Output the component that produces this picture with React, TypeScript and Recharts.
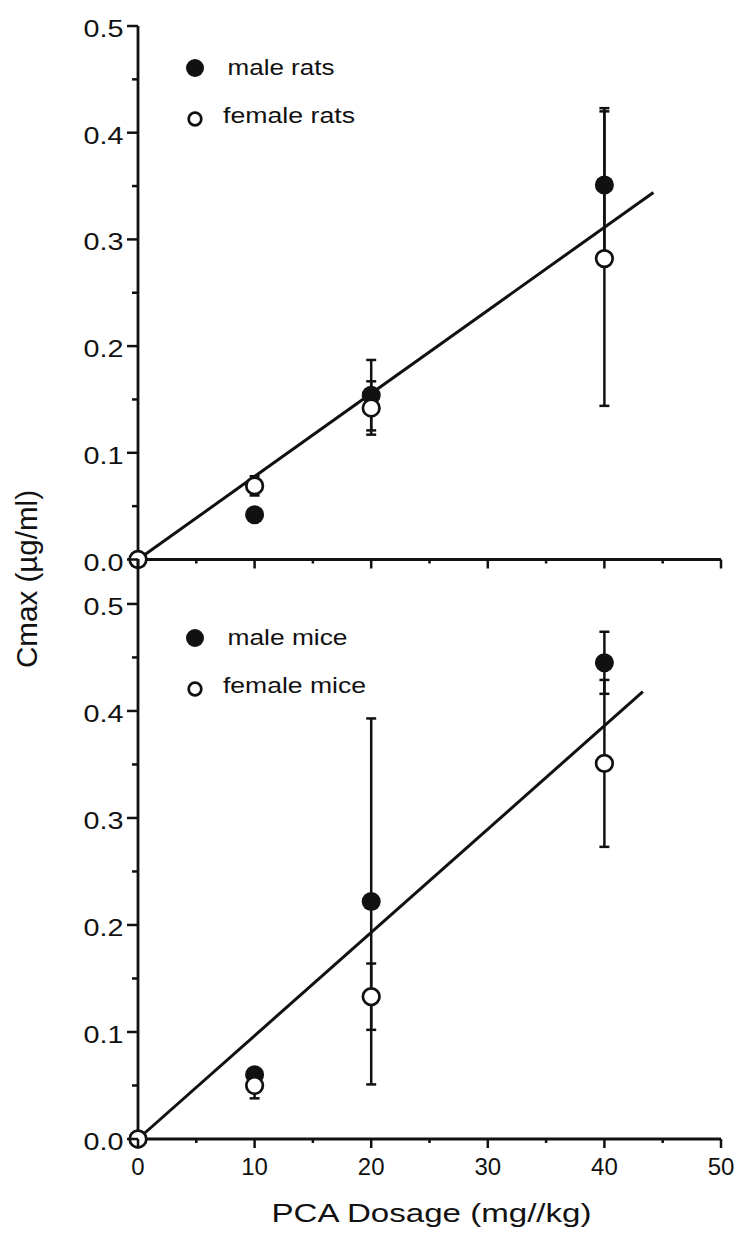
import { ScatterChart, Scatter, XAxis, YAxis, ErrorBar, Legend, Label } from "recharts";

// dosage (mg/kg)
const dose = [0, 10, 20, 40];

// rats, Cmax (µg/ml) with error
const maleRats = [0, 0.042, 0.154, 0.351];
const maleRatsErr = [0, 0, 0.033, 0.072];
const femaleRats = [0, 0.069, 0.142, 0.282];
const femaleRatsErr = [0, 0.009, 0.025, 0.138];

// mice
const maleMice = [0, 0.06, 0.222, 0.445];
const maleMiceErr = [0, 0.004, 0.171, 0.029];
const femaleMice = [0, 0.05, 0.133, 0.351];
const femaleMiceErr = [0, 0.012, 0.031, 0.078];

// regression lines (end points)
const ratFitX = [0, 44.2];
const ratFitY = [0, 0.344];
const miceFitX = [0, 43.3];
const miceFitY = [0, 0.418];

const xTicks = [0, 5, 10, 15, 20, 25, 30, 35, 40, 45, 50];
const yTicks = [0, 0.05, 0.1, 0.15, 0.2, 0.25, 0.3, 0.35, 0.4, 0.45, 0.5];

const FONT = "'Liberation Sans', Arial, Helvetica, sans-serif";
const INK = "#111";

const toPoints = (xs: number[], ys: number[], errs?: number[]) =>
    xs.map((x, i) => ({ x, y: ys[i], err: errs ? errs[i] : 0 }));

const isMajor = (v: number, step: number) => Math.abs(v / step - Math.round(v / step)) < 1e-6;

const YTick = (props: any) => {
    const { x, y, payload } = props;
    const major = isMajor(payload.value, 0.1);
    return (
        <g>
            <line x1={x} x2={x - (major ? 11 : 6)} y1={y} y2={y} stroke={INK} strokeWidth={2.5} />
            {major && (
                <text x={x - 14.5} y={y + 11} textAnchor="end" fontSize={24} fontFamily={FONT} fill={INK}
                    textLength={40} lengthAdjust="spacingAndGlyphs">
                    {payload.value.toFixed(1)}
                </text>
            )}
        </g>
    );
};

const makeXTick = (showLabels: boolean) => (props: any) => {
    const { x, y, payload } = props;
    const major = isMajor(payload.value, 10);
    return (
        <g>
            <line x1={x} x2={x} y1={y} y2={y + (major ? 9 : 4)} stroke={INK} strokeWidth={2.5} />
            {showLabels && major && (
                <text x={x} y={y + 36} textAnchor="middle" fontSize={24} fontFamily={FONT} fill={INK}>
                    {payload.value}
                </text>
            )}
        </g>
    );
};

const Filled = (p: any) => <circle cx={p.cx} cy={p.cy} r={9.5} fill={INK} />;
const Open = (p: any) => <circle cx={p.cx} cy={p.cy} r={8.3} fill="#fff" stroke={INK} strokeWidth={2.7} />;
const NoDot = () => <g />;

type PanelProps = {
    top: number;
    height: number;
    marginTop: number;
    marginBottom: number;
    xAxisHeight: number;
    yMax: number;
    male: number[];
    maleErr: number[];
    female: number[];
    femaleErr: number[];
    fitX: number[];
    fitY: number[];
    names: string[];
    nameLengths: number[];
    legendTop: number;
    bottomPanel: boolean;
};

function Panel(p: PanelProps) {
    const legend = () => (
        <svg width={220} height={100} style={{ overflow: "visible" }}>
            <circle cx={25} cy={25} r={9} fill={INK} />
            <text x={57.5} y={31.5} fontSize={22} fontFamily={FONT} fill={INK}
                textLength={p.nameLengths[0]} lengthAdjust="spacingAndGlyphs">{p.names[0]}</text>
            <circle cx={25} cy={76} r={6.3} fill="#fff" stroke={INK} strokeWidth={2.7} />
            <text x={53} y={80} fontSize={22} fontFamily={FONT} fill={INK}
                textLength={p.nameLengths[1]} lengthAdjust="spacingAndGlyphs">{p.names[1]}</text>
        </svg>
    );

    return (
        <div style={{ position: "absolute", left: 0, top: p.top }}>
            <ScatterChart
                width={740}
                height={p.height}
                margin={{ top: p.marginTop, right: 19, bottom: p.marginBottom, left: 78 }}
            >
                <XAxis
                    type="number"
                    dataKey="x"
                    domain={[0, 50]}
                    ticks={xTicks}
                    interval={0}
                    height={p.xAxisHeight}
                    axisLine={{ stroke: INK, strokeWidth: 2.8 }}
                    tickLine={false}
                    tickSize={0}
                    tickMargin={0}
                    tick={makeXTick(p.bottomPanel)}
                >
                    {p.bottomPanel && (
                        <Label
                            content={(lp: any) => {
                                const vb = lp.viewBox || {};
                                return (
                                    <text x={vb.x + vb.width / 2 + 2} y={vb.y + 83} textAnchor="middle"
                                        fontSize={26} fontFamily={FONT} fill={INK}
                                        textLength={320} lengthAdjust="spacingAndGlyphs">
                                        PCA Dosage (mg//kg)
                                    </text>
                                );
                            }}
                        />
                    )}
                </XAxis>
                <YAxis
                    type="number"
                    dataKey="y"
                    domain={[0, p.yMax]}
                    ticks={yTicks}
                    interval={0}
                    width={60}
                    axisLine={{ stroke: INK, strokeWidth: 2.8 }}
                    tickLine={false}
                    tickSize={0}
                    tickMargin={0}
                    tick={YTick}
                >
                    {p.bottomPanel && (
                        <Label
                            content={(lp: any) => {
                                const vb = lp.viewBox || {};
                                const lx = vb.x - 41;
                                const ly = vb.y + 20;
                                return (
                                    <text x={lx} y={ly} textAnchor="middle" transform={`rotate(-90, ${lx}, ${ly})`}
                                        fontSize={29} fontFamily={FONT} fill={INK}
                                        textLength={178} lengthAdjust="spacingAndGlyphs">
                                        Cmax (µg/ml)
                                    </text>
                                );
                            }}
                        />
                    )}
                </YAxis>
                <Legend
                    layout="vertical"
                    align="center"
                    verticalAlign="middle"
                    content={legend}
                    wrapperStyle={{ left: 170, top: p.legendTop, width: 220, height: 100 }}
                />
                <Scatter
                    name="fit"
                    data={toPoints(p.fitX, p.fitY)}
                    line={{ stroke: INK, strokeWidth: 3 }}
                    shape={NoDot}
                    legendType="none"
                    isAnimationActive={false}
                />
                <Scatter
                    name={p.names[0]}
                    data={toPoints(dose, p.male, p.maleErr)}
                    shape={Filled}
                    isAnimationActive={false}
                >
                    <ErrorBar dataKey="err" direction="y" width={5} stroke={INK} strokeWidth={2.5} isAnimationActive={false} />
                </Scatter>
                <Scatter
                    name={p.names[1]}
                    data={toPoints(dose, p.female, p.femaleErr)}
                    shape={Open}
                    isAnimationActive={false}
                >
                    <ErrorBar dataKey="err" direction="y" width={5} stroke={INK} strokeWidth={2.5} isAnimationActive={false} />
                </Scatter>
            </ScatterChart>
        </div>
    );
}

export default function App() {
    return (
        <div style={{ position: "absolute", left: 0, top: 0, width: 740, height: 1238, background: "#fff" }}>
            <Panel
                top={0}
                height={600}
                marginTop={26}
                marginBottom={10.5}
                xAxisHeight={30}
                yMax={0.5}
                male={maleRats}
                maleErr={maleRatsErr}
                female={femaleRats}
                femaleErr={femaleRatsErr}
                fitX={ratFitX}
                fitY={ratFitY}
                names={["male rats", "female rats"]}
                nameLengths={[107, 132]}
                legendTop={43}
                bottomPanel={false}
            />
            <Panel
                top={440}
                height={798}
                marginTop={119}
                marginBottom={9}
                xAxisHeight={90}
                yMax={0.542}
                male={maleMice}
                maleErr={maleMiceErr}
                female={femaleMice}
                femaleErr={femaleMiceErr}
                fitX={miceFitX}
                fitY={miceFitY}
                names={["male mice", "female mice"]}
                nameLengths={[120, 143]}
                legendTop={173}
                bottomPanel={true}
            />
        </div>
    );
}
